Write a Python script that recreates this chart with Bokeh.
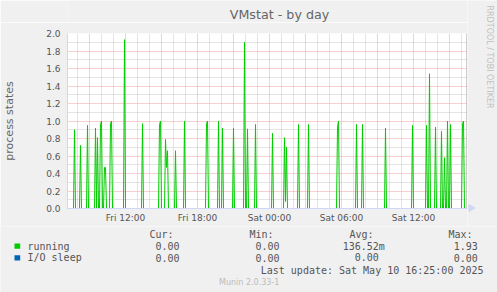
import math
import pandas as pd
from bokeh.plotting import figure
from bokeh.layouts import column, row
from bokeh.models import Range1d, FixedTicker, Grid, Span, ColumnDataSource
from bokeh.core.properties import value
from bokeh.embed import file_html
from bokeh.resources import INLINE

# ---------------- data ----------------
range_start = "2025-05-09 07:10"
range_end = "2025-05-10 16:30"
sample_start = "2025-05-09 07:10"
sample_end = "2025-05-10 16:25"

spike_times = [
    "2025-05-09 07:45", "2025-05-09 08:15", "2025-05-09 08:50", "2025-05-09 09:30",
    "2025-05-09 09:40", "2025-05-09 09:55", "2025-05-09 10:00", "2025-05-09 10:15",
    "2025-05-09 10:20", "2025-05-09 10:45", "2025-05-09 10:50", "2025-05-09 11:55",
    "2025-05-09 13:25", "2025-05-09 14:50", "2025-05-09 14:55", "2025-05-09 15:20",
    "2025-05-09 15:25", "2025-05-09 15:30", "2025-05-09 16:10", "2025-05-09 16:55",
    "2025-05-09 18:45", "2025-05-09 18:50", "2025-05-09 19:45", "2025-05-09 20:05",
    "2025-05-09 21:00", "2025-05-09 21:55", "2025-05-09 22:10", "2025-05-09 22:50",
    "2025-05-10 00:15", "2025-05-10 01:15", "2025-05-10 01:20", "2025-05-10 01:25",
    "2025-05-10 02:25", "2025-05-10 03:15", "2025-05-10 05:40", "2025-05-10 05:45",
    "2025-05-10 07:15", "2025-05-10 07:45", "2025-05-10 09:40", "2025-05-10 11:55",
    "2025-05-10 13:05", "2025-05-10 13:20", "2025-05-10 13:50", "2025-05-10 14:20",
    "2025-05-10 14:35", "2025-05-10 14:50", "2025-05-10 15:05", "2025-05-10 16:05",
    "2025-05-10 16:10",
]
spike_values = [
    0.90, 0.72, 0.95, 0.92,
    0.81, 0.96, 1.00, 0.47,
    0.47, 0.97, 1.00, 1.93,
    0.97, 0.96, 1.00, 0.79,
    0.47, 0.66, 0.66, 1.00,
    0.97, 1.00, 1.00, 0.92,
    0.92, 1.90, 0.91, 0.96,
    0.86, 0.81, 0.08, 0.70,
    0.96, 0.96, 0.93, 1.00,
    0.96, 0.96, 0.92, 0.95,
    0.95, 1.54, 0.93, 0.88,
    0.58, 1.00, 0.96, 0.97,
    1.00,
]

x_tick_times = ["2025-05-09 12:00", "2025-05-09 18:00", "2025-05-10 00:00",
                "2025-05-10 06:00", "2025-05-10 12:00"]
x_tick_labels = ["Fri 12:00", "Fri 18:00", "Sat 00:00", "Sat 06:00", "Sat 12:00"]
y_ticks = [0.0, 0.2, 0.4, 0.6, 0.8, 1.0, 1.2, 1.4, 1.6, 1.8, 2.0]
y_tick_labels = ["0.0", "0.2", "0.4", "0.6", "0.8", "1.0", "1.2", "1.4", "1.6", "1.8", "2.0"]

title_text = "VMstat - by day"
y_label = "process states"
side_text = "RRDTOOL / TOBI OETIKER"
series_names = ["running", "I/O sleep"]
series_colors = ["#00CC00", "#0066B3"]
stat_headers = ["Cur:", "Min:", "Avg:", "Max:"]
cur_vals = ["0.00", "0.00"]
min_vals = ["0.00", "0.00"]
avg_vals = ["136.52m", "0.00 "]
max_vals = ["1.93", "0.00"]
last_update = "Last update: Sat May 10 16:25:00 2025"
footer = "Munin 2.0.33-1"

# ---------------- series ----------------
t = pd.date_range(sample_start, sample_end, freq="5min")
running = pd.Series(0.0, index=t)
running.loc[pd.to_datetime(spike_times)] = spike_values
io_sleep = pd.Series(0.0, index=t)
src = ColumnDataSource(dict(t=t, running=running.values, io=io_sleep.values))


def ms(s):
    return pd.Timestamp(s).value / 1e6


x0, x1 = ms(range_start), ms(range_end)

# ---------------- geometry ----------------
W, H = 497, 292
FL, FT, FW, FH = 67, 33, 400, 175     # plot frame in page pixels
HEAD = 22                              # header strip height
H_MAIN = 226                           # bottom of main chart block
BG = "#F0F0F0"
AXIS = "#CFD6F8"
FONT = "DejaVu Sans"
MONO = "DejaVu Sans Mono"


def blank(width, height, xr, yr):
    f = figure(width=width, height=height, output_backend="svg", toolbar_location=None,
               x_range=Range1d(*xr), y_range=Range1d(*yr), min_border=0, min_border_left=0,
               min_border_right=0, min_border_top=0, min_border_bottom=0,
               x_axis_location=None, y_axis_location=None)
    f.background_fill_color = BG
    f.border_fill_color = BG
    f.outline_line_color = None
    f.grid.visible = False
    return f


# header with title
hdr = blank(FL + FW, HEAD, (0, FL + FW), (HEAD, 0))
hdr.text(x=[247.5], y=[13.5], text=[title_text], text_font=value(FONT), text_font_size="12.7px",
         text_color="#666666", text_align="center", text_baseline="middle")

# right strip with vertical credit and x-axis arrow head
strip = blank(W - FL - FW, H_MAIN, (FL + FW, W), (H_MAIN, 0))
strip.text(x=[489], y=[56.5], text=[side_text], text_font=value(FONT), text_font_size="8px",
           text_color="#c0c0c0", text_align="center", text_baseline="middle", angle=-math.pi / 2)
strip.segment(x0=[FL + FW], y0=[FT + FH - 0.5], x1=[470], y1=[FT + FH - 0.5],
              line_color=AXIS, line_width=1)
strip.scatter(x=[470.5], y=[FT + FH - 0.5], marker="triangle", size=7, angle=-math.pi / 2,
              fill_color=AXIS, line_color=AXIS)

# ---------------- main chart ----------------
HM = H_MAIN - HEAD
p = figure(width=FL + FW, height=HM, x_axis_type="datetime", output_backend="svg",
           toolbar_location=None, x_range=Range1d(x0, x1), y_range=Range1d(0, 2.0),
           min_border_left=FL, min_border_top=FT - HEAD, min_border_right=0,
           min_border_bottom=HM - (FT - HEAD) - FH)
p.background_fill_color = "#FFFFFF"
p.border_fill_color = BG
p.outline_line_color = None
p.xgrid.visible = False
p.ygrid.visible = False

GRAY = "#c8c8c8"
RED = "#f2a0a0"
hours = [ms(h) for h in pd.date_range("2025-05-09 08:00", "2025-05-10 16:00", freq="1h")]
major_x = [h for h in hours if pd.Timestamp(h, unit="ms").hour % 3 == 0]
minor_x = [h for h in hours if h not in major_x]
minor_y = [0.1, 0.3, 0.5, 0.7, 0.9, 1.1, 1.3, 1.5, 1.7, 1.9]
major_y = y_ticks[1:]
for dim, ticks, col in [(0, minor_x, GRAY), (1, minor_y, GRAY), (0, major_x, RED), (1, major_y, RED)]:
    p.add_layout(Grid(dimension=dim, ticker=FixedTicker(ticks=ticks),
                      grid_line_color=col, grid_line_dash="1 1", grid_line_width=1))

for ax in (p.xaxis[0], p.yaxis[0]):
    ax.axis_line_color = AXIS
    ax.major_tick_line_color = None
    ax.minor_tick_line_color = None
    ax.major_tick_out = 0
    ax.major_tick_in = 0
    ax.minor_tick_out = 0
    ax.minor_tick_in = 0
    ax.major_label_text_font = FONT
    ax.major_label_text_font_size = "9px"
    ax.major_label_text_color = "#555555"
x_tick_ms = [ms(s) for s in x_tick_times]
p.xaxis.ticker = FixedTicker(ticks=x_tick_ms)
p.xaxis.major_label_overrides = dict(zip(x_tick_ms, x_tick_labels))
p.xaxis.major_label_standoff = 4
p.yaxis.ticker = FixedTicker(ticks=y_ticks)
p.yaxis.major_label_overrides = dict(zip(y_ticks, y_tick_labels))
p.yaxis.major_label_standoff = 7
p.yaxis.axis_label = y_label
p.yaxis.axis_label_text_font = FONT
p.yaxis.axis_label_text_font_size = "11px"
p.yaxis.axis_label_text_font_style = "normal"
p.yaxis.axis_label_text_color = "#666666"
p.yaxis.axis_label_standoff = 27

p.line("t", "running", source=src, line_color=series_colors[0], line_width=1)
p.line("t", "io", source=src, line_color=series_colors[1], line_width=1, line_alpha=0.5)
p.add_layout(Span(location=x1 - 2.5 * 60000, dimension="height", line_color="#999999",
                  line_width=1))

# ---------------- legend / stats block ----------------
q = blank(W, H - H_MAIN, (0, W), (H, H_MAIN))
txt = dict(text_font=value(MONO), text_font_size="10px", text_color="#555555",
           text_baseline="middle")
q.text(x=[149, 249, 349, 448], y=[234.3] * 4, text=stat_headers, text_align="left", **txt)
rows_y = [245.7, 257.3]
q.rect(x=[16.85, 16.85], y=rows_y, width=5.7, height=5.2, fill_color=series_colors,
       line_color=None)
q.text(x=[27, 27], y=rows_y, text=series_names, text_align="left", **txt)
for right_x, vals in zip([179, 279, 384.3, 477.3], [cur_vals, min_vals, avg_vals, max_vals]):
    q.text(x=[right_x] * 2, y=rows_y, text=vals, text_align="right", **txt)
q.text(x=[483], y=[269.7], text=[last_update], text_align="right", **txt)
q.text(x=[248.7], y=[281.7], text=[footer], text_align="center", text_font=value(FONT),
       text_font_size="8px", text_color="#bbbbbb", text_baseline="middle")

layout = column(row(column(hdr, p, spacing=0), strip, spacing=0), q, spacing=0)
open("out.html", "w").write(file_html(layout, INLINE))
